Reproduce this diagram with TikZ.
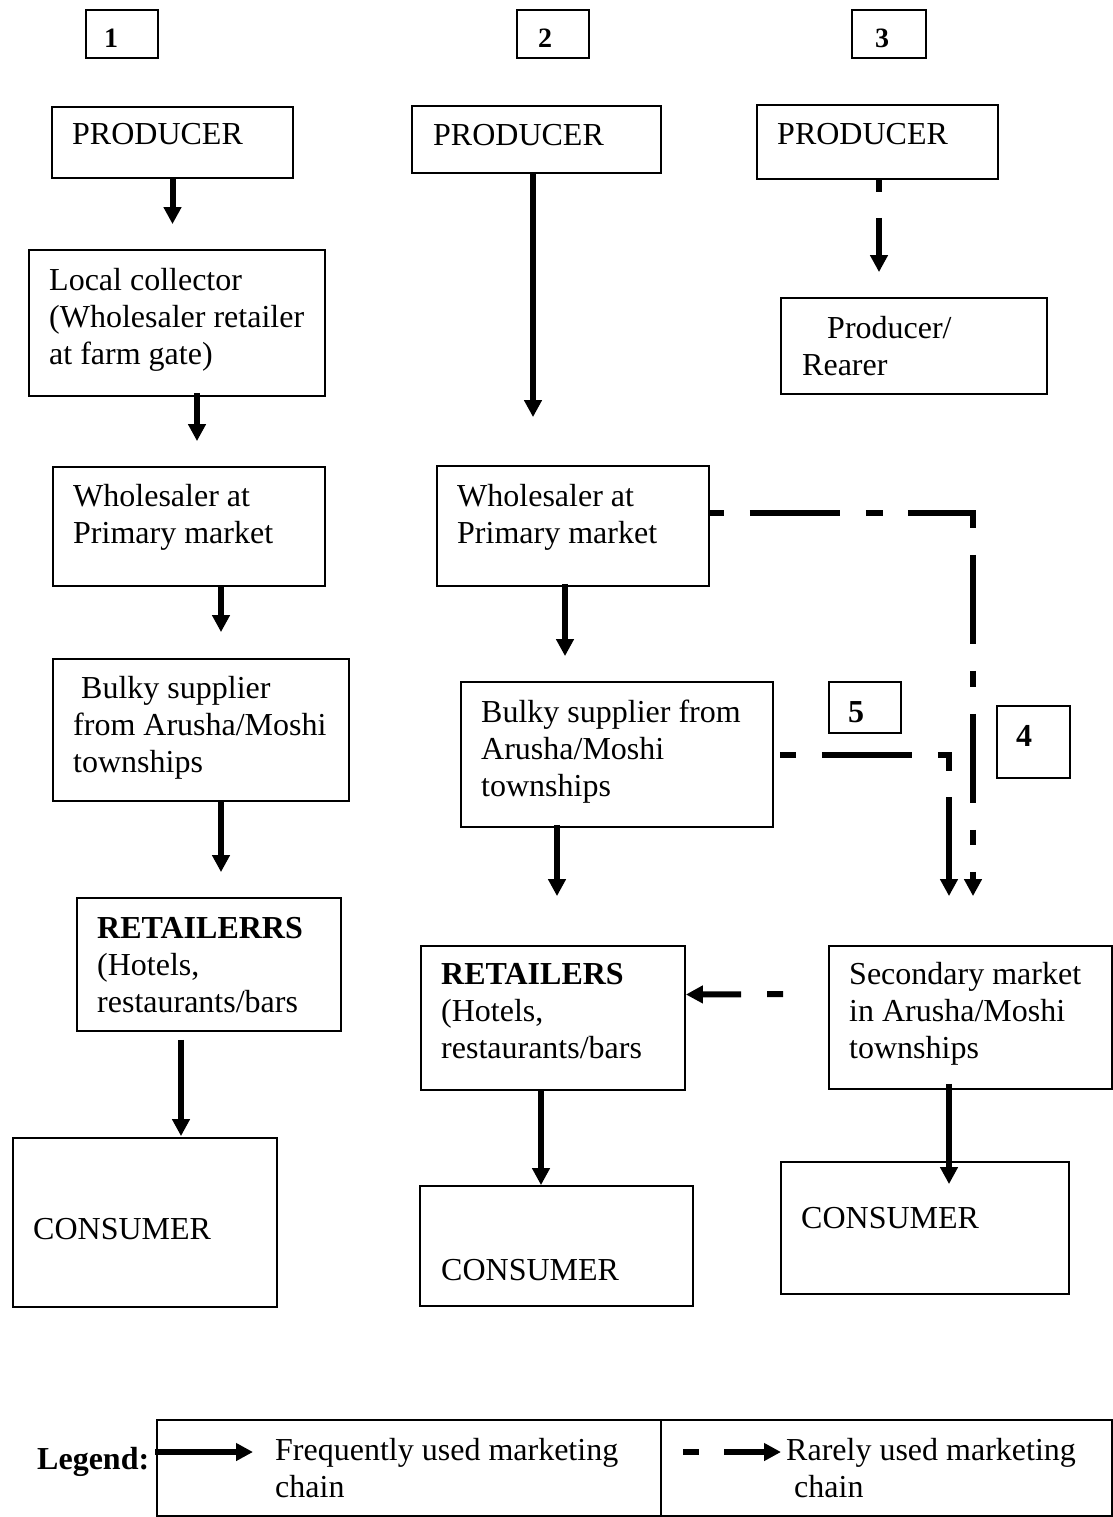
\documentclass[tikz,border=0pt]{standalone}
\usepackage{fontspec}
\setmainfont{Liberation Serif}
\usetikzlibrary{arrows.meta}
\begin{document}
\begin{tikzpicture}[x=1pt,y=-1pt,
  box/.style={draw, line width=1.8pt, inner sep=0pt},
  txt/.style={anchor=base west, align=left, inner sep=0pt, font=\fontsize{32}{37}\selectfont},
  numtxt/.style={anchor=base west, inner sep=0pt, font=\bfseries\fontsize{28}{32}\selectfont},
  often/.style={line width=6pt, -{Triangle[width=17pt,length=17pt]}},
  rare/.style={often, dash pattern=#1},
]
\useasboundingbox (0,0) rectangle (1113,1517);

% chain numbers
\node[box, minimum width=72pt, minimum height=48pt] (n1) at (122,34) {};
\node[box, minimum width=72pt, minimum height=48pt] (n2) at (553,34) {};
\node[box, minimum width=74pt, minimum height=48pt] (n3) at (889,34) {};
\node[numtxt] (l1) at (104,48) {1};
\node[numtxt] (l2) at (538,48) {2};
\node[numtxt] (l3) at (875,48) {3};

% chain 1
\node[box, minimum width=241pt, minimum height=71pt]  (P1) at (172.5,142.5) {};
\node[box, minimum width=296pt, minimum height=146pt] (LC) at (177,323) {};
\node[box, minimum width=272pt, minimum height=119pt] (W1) at (189,526.5) {};
\node[box, minimum width=296pt, minimum height=142pt] (B1) at (201,730) {};
\node[box, minimum width=264pt, minimum height=133pt] (R1) at (209,964.5) {};
\node[box, minimum width=264pt, minimum height=169pt] (C1) at (145,1222.5) {};

% multi-line texts are anchored at the baseline of their last line
\node[txt] (tP1) at (72,145) {PRODUCER};
\node[txt] (tLC) at (49,364) {Local collector\\(Wholesaler retailer\\at farm gate)};
\node[txt] (tW1) at (73,543) {Wholesaler at\\Primary market};
\node[txt] (tB1) at (73,772) {\hspace*{8pt}Bulky supplier\\from Arusha/Moshi\\townships};
\node[txt] (tR1) at (97,1012) {\textbf{RETAILERRS}\\(Hotels,\\restaurants/bars};
\node[txt] (tC1) at (33,1239) {CONSUMER};

% chain 2
\node[box, minimum width=249pt, minimum height=67pt]  (P2) at (536.5,139.5) {};
\node[box, minimum width=272pt, minimum height=120pt] (W2) at (573,526) {};
\node[box, minimum width=312pt, minimum height=145pt] (B2) at (617,754.5) {};
\node[box, minimum width=264pt, minimum height=144pt] (R2) at (553,1018) {};
\node[box, minimum width=273pt, minimum height=120pt] (C2) at (556.5,1246) {};

\node[txt] (tP2) at (433,146) {PRODUCER};
\node[txt] (tW2) at (457,543) {Wholesaler at\\Primary market};
\node[txt] (tB2) at (481,796) {Bulky supplier from\\Arusha/Moshi\\townships};
\node[txt] (tR2) at (441,1058) {\textbf{RETAILERS}\\(Hotels,\\restaurants/bars};
\node[txt] (tC2) at (441,1280) {CONSUMER};

% chain 3
\node[box, minimum width=241pt, minimum height=74pt]  (P3) at (877.5,142) {};
\node[box, minimum width=266pt, minimum height=96pt]  (PR) at (914,346) {};
\node[box, minimum width=283pt, minimum height=143pt] (Sec) at (970.5,1017.5) {};
\node[box, minimum width=288pt, minimum height=132pt] (C3) at (925,1228) {};

\node[txt] (tP3) at (777,145) {PRODUCER};
\node[txt] (tPR) at (802,375) {\hspace*{25pt}Producer/\\Rearer};
\node[txt] (tSec) at (849,1058) {Secondary market\\in Arusha/Moshi\\townships};
\node[txt] (tC3) at (801,1228) {CONSUMER};

% chain numbers 4 and 5
\node[box, minimum width=72pt, minimum height=51pt] (n5) at (865,707.5) {};
\node[box, minimum width=73pt, minimum height=72pt] (n4) at (1033.5,742) {};
\node[numtxt, font=\bfseries\fontsize{32}{36}\selectfont] (l5) at (848,722) {5};
\node[numtxt, font=\bfseries\fontsize{32}{36}\selectfont] (l4) at (1016,746) {4};

% frequently used links
\draw[often, shorten >=25pt] (P1.south) -- (P1.south |- LC.north);
\draw[often, shorten >=25pt, shorten <=-4pt] ([xshift=20pt]LC.south) -- ([xshift=20pt]LC.south |- W1.north);
\draw[often, shorten >=26pt] ([xshift=32pt]W1.south) -- ([xshift=32pt]W1.south |- B1.north);
\draw[often, shorten >=25pt] ([xshift=20pt]B1.south) -- ([xshift=20pt]B1.south |- R1.north);
\draw[often, shorten >=1pt, shorten <=8pt] ([xshift=-28pt]R1.south) -- ([xshift=-28pt]R1.south |- C1.north);

\draw[often, shorten >=48pt] ([xshift=-3.5pt]P2.south) -- ([xshift=-3.5pt]P2.south |- W2.north);
\draw[often, shorten >=25pt, shorten <=-3pt] ([xshift=-8pt]W2.south) -- ([xshift=-8pt]W2.south |- B2.north);
\draw[often, shorten >=49pt, shorten <=-3pt] ([xshift=-60pt]B2.south) -- ([xshift=-60pt]B2.south |- R2.north);
\draw[often] ([xshift=-12pt]R2.south) -- ([xshift=-12pt]R2.south |- C2.north);
\draw[often, shorten >=-23pt, shorten <=-6pt] ([xshift=-21.5pt]Sec.south) -- ([xshift=-21.5pt]Sec.south |- C3.north);

% rarely used links
\draw[rare={on 12pt off 26pt on 200pt}, shorten >=25pt] ([xshift=1.5pt]P3.south) -- ([xshift=1.5pt]P3.south |- PR.north);
\draw[rare={on 14pt off 26pt on 90pt off 26pt on 17pt off 25pt on 80pt off 27pt on 89pt off 27pt on 16pt off 27pt on 89pt off 27pt on 15pt off 27pt on 200pt}, shorten >=49pt]
  ([yshift=13pt]W2.east) -| ([xshift=2.5pt]Sec.north);
\draw[rare={on 16pt off 26pt on 90pt off 26pt on 28pt off 26pt on 200pt}, shorten >=49pt]
  ([xshift=6pt]B2.east) -| ([xshift=-21.5pt]Sec.north);
\draw[rare={on 16pt off 26pt on 200pt}, shorten <=45pt]
  ([yshift=23.5pt]Sec.west) -- ([yshift=23.5pt]R2.east);

% legend
\node[box, minimum width=504pt, minimum height=96pt] (legF) at (409,1468) {};
\node[box, minimum width=451pt, minimum height=96pt] (legR) at (886.5,1468) {};
\node[txt, font=\bfseries\fontsize{32}{37}\selectfont] (tLeg) at (37,1469) {Legend:};
\coordinate (fa) at (155,1452);
\coordinate (fb) at (253,1452);
\coordinate (ra) at (683,1452);
\coordinate (rb) at (781,1452);
\draw[often] (fa) -- (fb);
\draw[rare={on 16pt off 25pt on 100pt}] (ra) -- (rb);
\node[txt] (tF) at (275,1497) {Frequently used marketing\\chain};
\node[txt] (tR) at (786,1497) {Rarely used marketing\\\hspace*{8pt}chain};
\end{tikzpicture}
\end{document}
